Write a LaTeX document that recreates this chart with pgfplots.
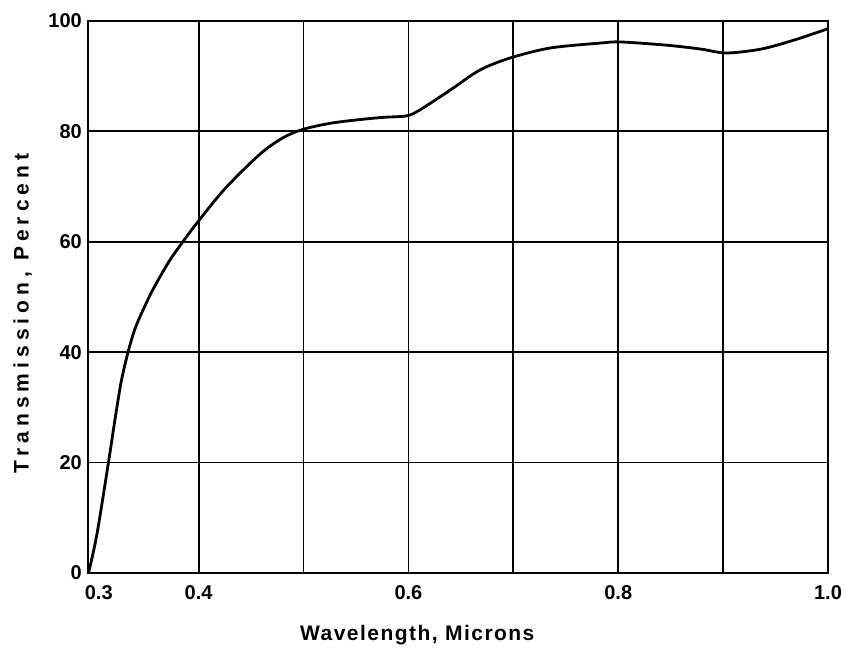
\documentclass[border=0pt]{standalone}
\usepackage{fontspec}
\setmainfont{Liberation Sans}
\newfontfamily\ylabfont[LetterSpace=24]{Liberation Sans}
\newfontfamily\xlabfont[LetterSpace=7]{Liberation Sans}
\usepackage{pgfplots}
\pgfplotsset{compat=1.18}
\begin{document}
\begin{tikzpicture}
\begin{axis}[
  scale only axis,
  width=740pt, height=552pt,
  xmin=0.2945, xmax=1.0,
  ymin=0, ymax=100,
  xtick={0.4,0.5,0.6,0.7,0.8,0.9,1.0},
  xticklabels={0.4,,0.6,,0.8,,1.0},
  extra x ticks={0.3},
  extra x tick labels={0.3},
  extra x tick style={grid=none, xticklabel style={xshift=5pt}},
  ytick={0,20,40,60,80,100},
  major tick length=0pt,
  grid=major,
  major grid style={black, line width=1.8pt},
  axis line style={black, line width=2.4pt},
  /pgf/number format/assume math mode=true,
  tick label style={font=\fontsize{20}{22}\selectfont\bfseries},
  yticklabel style={anchor=east, inner sep=0pt, xshift=-6pt},
  xticklabel style={anchor=north, inner sep=0pt, yshift=-12pt},
  xlabel={\xlabfont\bfseries Wavelength, Microns},
  ylabel={\ylabfont\bfseries Transmission, Percent},
  label style={font=\fontsize{21}{23}\selectfont},
  xlabel style={at={(axis description cs:0.445,0)}, anchor=north, yshift=-52pt, inner sep=0pt},
  ylabel style={at={(axis description cs:0,0.47)}, anchor=south, yshift=56pt, inner sep=0pt},
  clip=false,
]
\addplot[black, line width=2.8pt, smooth, tension=0.5] coordinates {
(0.295,0) (0.303,7) (0.314,20) (0.320,27.5) (0.326,34.5) (0.332,39.5) (0.338,43.5) (0.344,46.4)
(0.356,51.2) (0.372,56.5) (0.388,60.8) (0.400,63.8) (0.425,69.6)
(0.458,75.8) (0.48,78.8) (0.50,80.4) (0.53,81.6) (0.573,82.5) (0.598,82.8) (0.611,83.9)
(0.64,87.5) (0.668,91.1) (0.697,93.3) (0.735,95.1) (0.783,96.0) (0.802,96.2)
(0.847,95.6) (0.879,94.9) (0.903,94.2) (0.936,94.9) (0.967,96.5) (1.0,98.6)
};
\coordinate (ll) at (rel axis cs:-0.1189,-0.1522);
\coordinate (ur) at (rel axis cs:1.0243,1.038);
\end{axis}
\pgfresetboundingbox
\path (ll) rectangle (ur);
\end{tikzpicture}
\end{document}
